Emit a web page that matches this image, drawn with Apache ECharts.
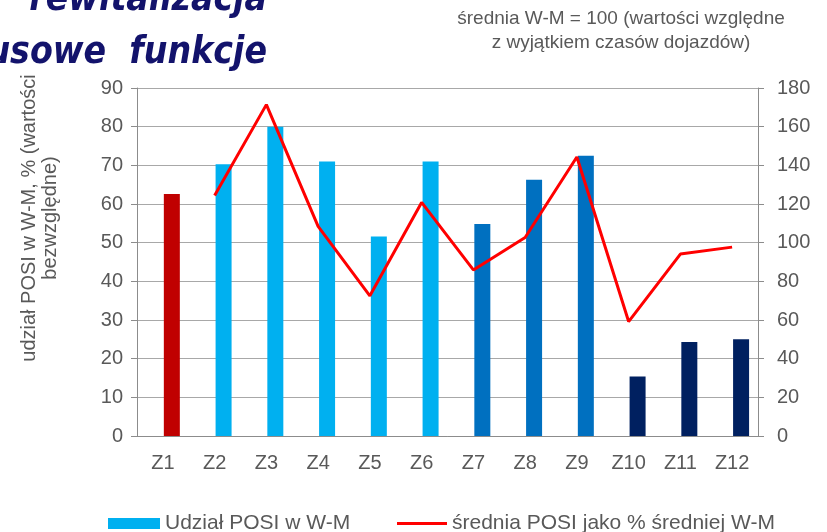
<!DOCTYPE html>
<html><head><meta charset="utf-8">
<script src="https://cdn.jsdelivr.net/npm/echarts@6/dist/echarts.min.js"></script>
<style>html,body{margin:0;padding:0;background:#fff}#c{width:827px;height:532px}</style>
</head><body><div id="c"></div>
<script>
const categories = ['Z1','Z2','Z3','Z4','Z5','Z6','Z7','Z8','Z9','Z10','Z11','Z12'];
const shareValues = [62.6, 70.3, 80, 71, 51.6, 71, 54.8, 66.3, 72.5, 15.4, 24.3, 25];
const shareColors = ['#C00000','#00B0F0','#00B0F0','#00B0F0','#00B0F0','#00B0F0','#0070C0','#0070C0','#0070C0','#002060','#002060','#002060'];
const avgValues = [null, 124.4, 171.4, 108.4, 72.5, 120.8, 85.9, 102.7, 144.3, 59.2, 94.1, 97.7];
const leftTicks = {min: 0, max: 90, interval: 10};
const rightTicks = {min: 0, max: 180, interval: 20};
const barName = 'Udział POSI w W-M';
const lineName = 'średnia POSI jako % średniej W-M';

const chart = echarts.init(document.getElementById('c'), null, {renderer: 'canvas'});
const font = 'Liberation Sans, Arial, sans-serif';
const txt = '#595959';
const titleFont = 'italic bold 37px "DejaVu Sans Condensed", "DejaVu Sans", sans-serif';
chart.setOption({
  animation: false,
  backgroundColor: '#fff',
  textStyle: {fontFamily: font},
  grid: {left: 137, right: 69, top: 88, bottom: 96},
  legend: [
    {left: 108, top: 513, padding: 0, itemWidth: 52, itemHeight: 11, itemGap: 5, icon: 'rect', data: [barName],
     textStyle: {fontSize: 21, color: txt, fontFamily: font}},
    {left: 397, top: 513, padding: 0, itemWidth: 50, itemHeight: 3, icon: 'rect', data: [lineName],
     textStyle: {fontSize: 21, color: txt, fontFamily: font}}
  ],
  xAxis: {
    type: 'category', data: categories,
    axisLine: {lineStyle: {color: '#8c8c8c', width: 1}},
    axisTick: {show: false},
    axisLabel: {color: txt, fontSize: 20, margin: 17, fontFamily: font}
  },
  yAxis: [
    {type: 'value', min: leftTicks.min, max: leftTicks.max, interval: leftTicks.interval,
     axisLine: {show: true, lineStyle: {color: '#8c8c8c'}},
     axisTick: {show: true, length: 6, lineStyle: {color: '#8c8c8c'}},
     axisLabel: {color: txt, fontSize: 20, margin: 14, fontFamily: font},
     splitLine: {lineStyle: {color: '#a8a8a8', width: 1.2}}},
    {type: 'value', min: rightTicks.min, max: rightTicks.max, interval: rightTicks.interval,
     axisLine: {show: true, lineStyle: {color: '#8c8c8c'}},
     axisTick: {show: true, length: 6, lineStyle: {color: '#8c8c8c'}},
     axisLabel: {color: txt, fontSize: 20, margin: 19, fontFamily: font},
     splitLine: {show: false}}
  ],
  series: [
    {type: 'bar', name: '_', data: categories.map(() => null), barWidth: 16, barGap: '12%', silent: true},
    {type: 'bar', name: barName, yAxisIndex: 0, barWidth: 16, barGap: '12%',
     itemStyle: {color: '#00B0F0'},
     data: shareValues.map((v, i) => ({value: v, itemStyle: {color: shareColors[i]}}))},
    {type: 'line', name: lineName, yAxisIndex: 1, data: avgValues, symbol: 'none',
     lineStyle: {color: '#FF0000', width: 3}, itemStyle: {color: '#FF0000'}, z: 5}
  ],
  graphic: [
    {type: 'text', x: 40, y: 218, rotation: Math.PI / 2, z: 1,
     style: {text: 'udział POSI w W-M, % (wartości\nbezwzględne)', fill: txt, font: '20px ' + font,
             textAlign: 'center', textVerticalAlign: 'middle', lineHeight: 21}},
    {type: 'rect', shape: {x: 0, y: 0, width: 280, height: 68}, style: {fill: '#fff'}, z: 10},
    {type: 'text', x: 267, y: 0, z: 11,
     style: {text: 'rewitalizacja', fill: '#13136c', font: titleFont, textAlign: 'right', textVerticalAlign: 'middle'}},
    {type: 'text', x: 267, y: 53, z: 11,
     style: {text: 'usowe  funkcje', fill: '#13136c', font: titleFont, textAlign: 'right', textVerticalAlign: 'middle'}},
    {type: 'text', x: 621, y: 7, z: 11,
     style: {text: 'średnia W-M = 100 (wartości względne\nz wyjątkiem czasów dojazdów)', fill: txt, font: '19px ' + font,
             textAlign: 'center', textVerticalAlign: 'top', lineHeight: 24}}
  ]
});
</script></body></html>
